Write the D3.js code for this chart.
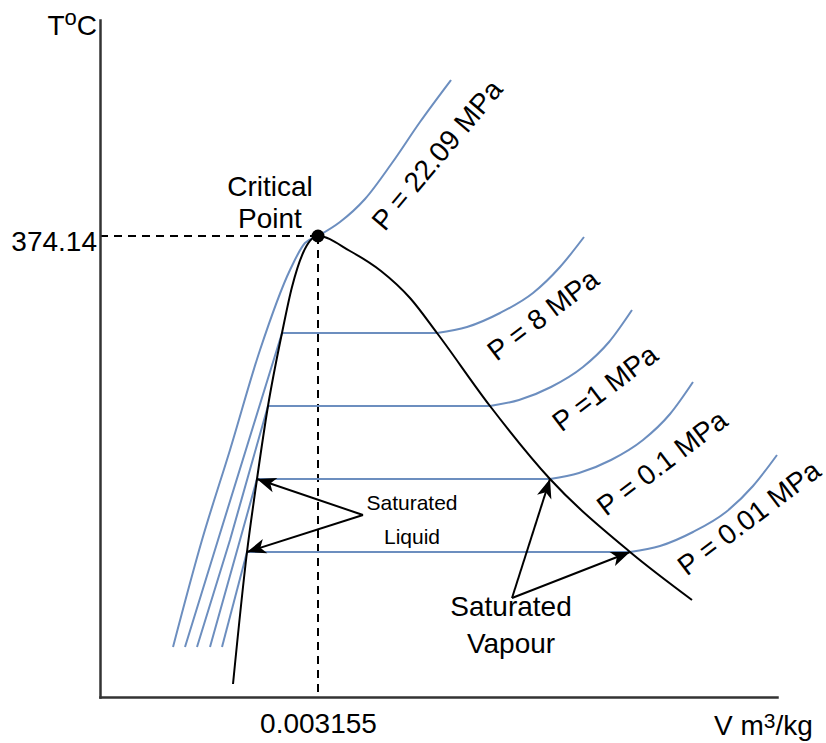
<!DOCTYPE html>
<html>
<head>
<meta charset="utf-8">
<script src="https://cdn.jsdelivr.net/npm/d3@7"></script>
<style>
body { margin: 0; background: #fff; }
text { font-family: "Liberation Sans", Arial, sans-serif; fill: #000; }
</style>
</head>
<body>
<div id="chart"></div>
<script>

// schematic units (T-v diagram is not to scale)
const critical = {v: 218, t: 461};
const xTickLabels = ["0.003155"];
const yTickLabels = ["374.14"];

// saturation dome
const satLiquid = [[218,461],[203,444],[192,410],[182,364],[168,291],[157,218],[147,145],[133,13]];
const satVapour = [[218,461],[250,446],[281,426],[310,399],[337,364],[390,291],[450,218],[530,145],[592,97]];

// critical isobar
const isoCritical = [[73,50],[102,157],[130,247],[160,347],[190,427],[205,454],[218,461],[240,475],[265,498],[292,534],[320,575],[351,617]];

// sub-critical isobars: compressed liquid part and superheated part
const pressureLabels = ["P = 22.09 MPa", "P = 8 MPa", "P =1 MPa", "P = 0.1 MPa", "P = 0.01 MPa"];
const isoLiquid = [
    [[85,50],[118,157],[182,364]],
    [[97,50],[130,157],[168,291]],
    [[110,50],[140,157],[157,218]],
    [[122,50],[147,145]]
];
const isoVapour = [
    [[337,364],[367,370],[400,384],[433,404],[460,430],[484,460]],
    [[390,291],[419,297],[451,310],[483,330],[509,355],[532,387]],
    [[450,218],[479,224],[511,237],[543,257],[570,283],[593,315]],
    [[530,145],[560,151],[593,165],[626,185],[653,211],[677,242]]
];

// annotation arrows: [from, to]
const liquidArrows = [[[263,182],[157,218]], [[263,182],[147,145]]];
const vapourArrows = [[[412,99],[450,218]], [[412,99],[530,145]]];

// where the rotated pressure labels sit
const labelPos = [
    {v: 337, t: 542, angle: -50},
    {v: 443, t: 382, angle: -37},
    {v: 505, t: 309, angle: -37},
    {v: 562, t: 234, angle: -37},
    {v: 649, t: 179, angle: -37}
];

let margin = {top: 20, right: 49, bottom: 46, left: 100};
let width = 826 - margin.left - margin.right;
let height = 743 - margin.top - margin.bottom;

let svg = d3.select("#chart").append("svg")
    .attr("width", 826)
    .attr("height", 743)
    .append("g")
    .attr("transform", "translate(" + margin.left + "," + margin.top + ")");

let x = d3.scaleLinear().domain([0, 677]).range([0, width]);
let y = d3.scaleLinear().domain([0, 677]).range([height, 0]);

let line = d3.line().x(d => x(d[0])).y(d => y(d[1]));
let curve = d3.line().x(d => x(d[0])).y(d => y(d[1])).curve(d3.curveMonotoneX);

const blue = "#6c8ebf";

// arrow head
svg.append("defs").append("marker")
    .attr("id", "arrow")
    .attr("viewBox", "-21 -10 23 20")
    .attr("refX", 0).attr("refY", 0)
    .attr("markerWidth", 23).attr("markerHeight", 20)
    .attr("markerUnits", "userSpaceOnUse")
    .attr("orient", "auto")
    .append("path")
    .attr("d", "M0,0L-19,-7.5L-14,0L-19,7.5Z")
    .attr("fill", "#000");

// dashed guides to the critical point
svg.append("path")
    .attr("d", line([[0, critical.t], [critical.v, critical.t]]))
    .attr("fill", "none").attr("stroke", "#000").attr("stroke-width", 2)
    .attr("stroke-dasharray", "8,6");
svg.append("path")
    .attr("d", line([[critical.v, critical.t], [critical.v, 0]]))
    .attr("fill", "none").attr("stroke", "#000").attr("stroke-width", 2)
    .attr("stroke-dasharray", "8,6");

// isobars
svg.append("path")
    .attr("d", curve(isoCritical))
    .attr("fill", "none").attr("stroke", blue).attr("stroke-width", 2);

isoLiquid.forEach((pts, i) => {
    let vap = isoVapour[i];
    svg.append("path")
        .attr("d", line(pts))
        .attr("fill", "none").attr("stroke", blue).attr("stroke-width", 2);
    svg.append("path")
        .attr("d", line([pts[pts.length - 1], vap[0]]))
        .attr("fill", "none").attr("stroke", blue).attr("stroke-width", 2);
    svg.append("path")
        .attr("d", curve(vap))
        .attr("fill", "none").attr("stroke", blue).attr("stroke-width", 2);
});

// saturation dome
let dome = satLiquid.slice().reverse().concat(satVapour.slice(1));
svg.append("path")
    .attr("d", curve(dome))
    .attr("fill", "none").attr("stroke", "#000").attr("stroke-width", 2);

// arrows
liquidArrows.concat(vapourArrows).forEach(a => {
    svg.append("path")
        .attr("d", line(a))
        .attr("fill", "none").attr("stroke", "#000").attr("stroke-width", 2)
        .attr("marker-end", "url(#arrow)");
});

// axes
let xAxis = d3.axisBottom(x).tickValues([critical.v]).tickFormat((d, i) => xTickLabels[i])
    .tickSize(0).tickSizeOuter(0).tickPadding(16);
let yAxis = d3.axisLeft(y).tickValues([critical.t]).tickFormat((d, i) => yTickLabels[i])
    .tickSize(0).tickSizeOuter(0).tickPadding(3);

let gx = svg.append("g").attr("class", "x-axis axis")
    .attr("transform", "translate(0," + height + ")")
    .call(xAxis);
let gy = svg.append("g").attr("class", "y-axis axis")
    .call(yAxis);

[gx, gy].forEach(g => {
    g.select(".domain").attr("stroke", "#333").attr("stroke-width", 2.5).attr("stroke-linecap", "square");
    g.selectAll("text").attr("font-size", 28).attr("font-family", "Liberation Sans, Arial, sans-serif").attr("fill", "#000");
});
gy.selectAll("text").attr("dy", "0.5em");

// critical point
svg.append("circle")
    .attr("cx", x(critical.v)).attr("cy", y(critical.t)).attr("r", 6.5)
    .attr("fill", "#000");

// axis titles
let tTitle = svg.append("text").attr("x", -3).attr("y", 15)
    .attr("text-anchor", "end").attr("font-size", 28);
tTitle.append("tspan").text("T");
tTitle.append("tspan").attr("font-size", 22).attr("dy", -10).text("o");
tTitle.append("tspan").attr("dy", 10).text("C");

let vTitle = svg.append("text").attr("x", 614).attr("y", 715)
    .attr("font-size", 28);
vTitle.append("tspan").text("V m");
vTitle.append("tspan").attr("font-size", 21).attr("dy", -7).text("3");
vTitle.append("tspan").attr("dy", 7).text("/kg");

// annotations
svg.append("text").attr("x", 170).attr("y", 176).attr("text-anchor", "middle")
    .attr("font-size", 28).text("Critical");
svg.append("text").attr("x", 170).attr("y", 208).attr("text-anchor", "middle")
    .attr("font-size", 28).text("Point");

svg.append("text").attr("x", 312).attr("y", 490).attr("text-anchor", "middle")
    .attr("font-size", 21).text("Saturated");
svg.append("text").attr("x", 312).attr("y", 524).attr("text-anchor", "middle")
    .attr("font-size", 21).text("Liquid");

svg.append("text").attr("x", 411).attr("y", 596).attr("text-anchor", "middle")
    .attr("font-size", 28).text("Saturated");
svg.append("text").attr("x", 411).attr("y", 633).attr("text-anchor", "middle")
    .attr("font-size", 28).text("Vapour");

// pressure labels
labelPos.forEach((p, i) => {
    svg.append("text")
        .attr("transform", "translate(" + x(p.v) + "," + y(p.t) + ") rotate(" + p.angle + ")")
        .attr("text-anchor", "middle")
        .attr("dominant-baseline", "central")
        .attr("font-size", 28)
        .text(pressureLabels[i]);
});

</script>
</body>
</html>
